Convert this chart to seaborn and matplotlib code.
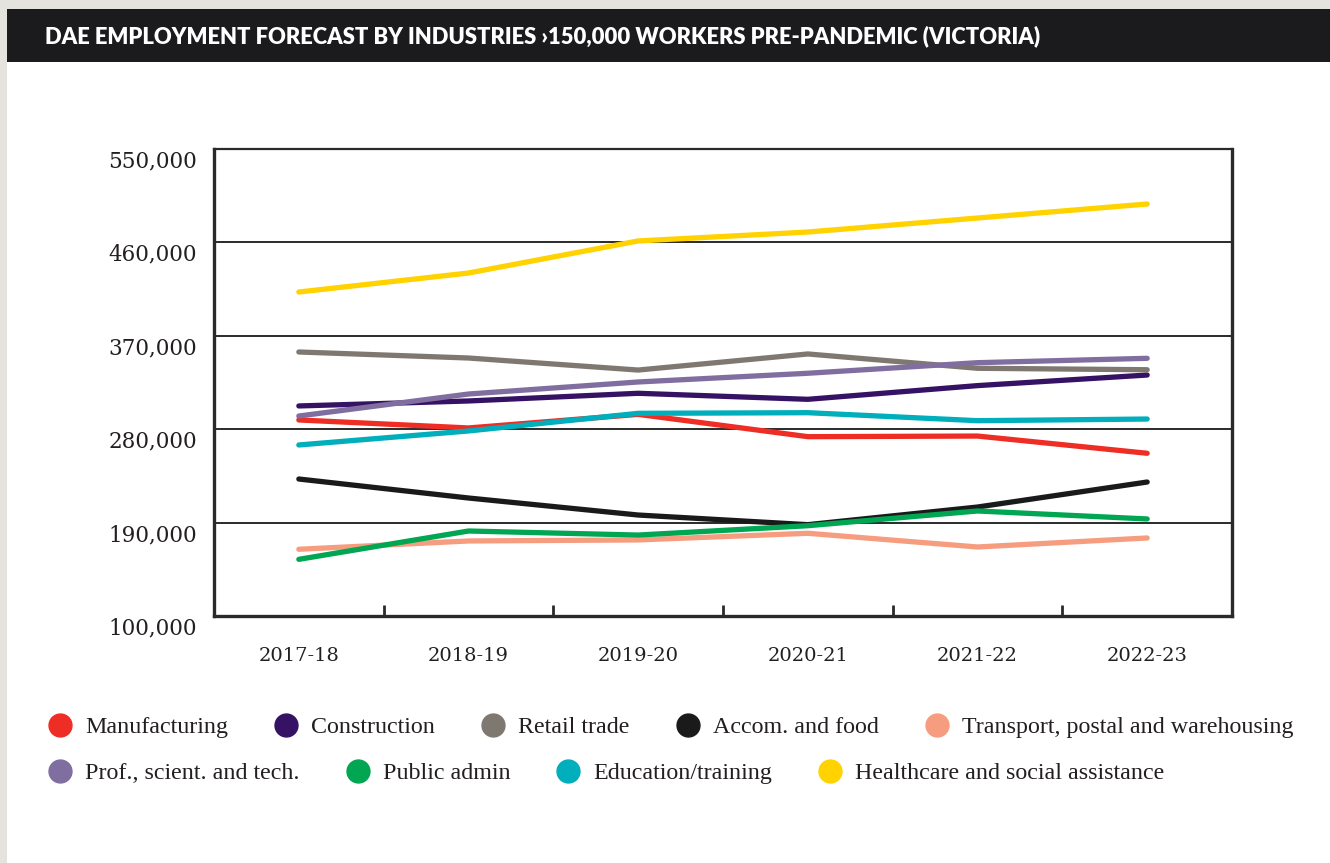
import matplotlib
matplotlib.use("Agg")
import matplotlib.pyplot as plt
import matplotlib.patches as mpatches
from matplotlib.lines import Line2D
from matplotlib.transforms import ScaledTranslation
import seaborn as sns
import pandas as pd

# ---- data -------------------------------------------------------------
years = ["2017-18", "2018-19", "2019-20", "2020-21", "2021-22", "2022-23"]

manufacturing = [288900, 281200, 294300, 272800, 273400, 256800]
construction = [302400, 307200, 314600, 308800, 322000, 332200]
retail_trade = [354400, 348600, 337000, 352500, 338700, 337300]
accom_food = [232000, 213700, 197300, 188000, 205000, 229100]
transport = [164300, 172300, 173300, 179700, 166500, 175200]
prof_sci_tech = [292700, 313900, 325500, 333900, 344100, 348300]
public_admin = [154600, 181900, 178000, 187000, 201200, 193500]
education = [264800, 278300, 295300, 295900, 288200, 289800]
healthcare = [412200, 430500, 461400, 470000, 483500, 497000]

industries = [
    "Manufacturing", "Construction", "Retail trade", "Accom. and food",
    "Transport, postal and warehousing", "Prof., scient. and tech.",
    "Public admin", "Education/training", "Healthcare and social assistance",
]
series = [manufacturing, construction, retail_trade, accom_food, transport,
          prof_sci_tech, public_admin, education, healthcare]
colors = ["#ee2d24", "#351264", "#7f7871", "#1a1a1a", "#f69d80",
          "#7f6e9f", "#00a651", "#00aebc", "#ffd200"]

y_ticks = [100000, 190000, 280000, 370000, 460000, 550000]

rows = []
for name, vals in zip(industries, series):
    for i, v in enumerate(vals):
        rows.append({"industry": name, "period": i, "workers": v})
df = pd.DataFrame(rows)

# ---- figure -----------------------------------------------------------
sns.set_theme(style="white")
W, H = 1330, 863
fig = plt.figure(figsize=(W / 100, H / 100), dpi=100)
fig.patch.set_facecolor("white")

def px_rect(x0, y0, x1, y1, color):
    fig.patches.append(mpatches.Rectangle(
        (x0 / W, 1 - y1 / H), (x1 - x0) / W, (y1 - y0) / H,
        transform=fig.transFigure, facecolor=color, edgecolor="none", zorder=0))

# page margins and heading band
px_rect(0, 0, 7, H, "#e4e3de")
px_rect(0, 0, W, 9, "#e4e3de")
px_rect(7, 9, W, 62, "#1b1b1d")
fig.text(45 / W, 1 - 36 / H,
         "DAE EMPLOYMENT FORECAST BY INDUSTRIES \u203a150,000 WORKERS PRE-PANDEMIC (VICTORIA)",
         color="white", fontsize=15.8, fontweight="heavy", family=["Lato", "DejaVu Sans"],
         va="center", ha="left")

ax = fig.add_axes([214 / W, 1 - 616 / H, (1232 - 214) / W, (616 - 149) / H])
ax.set_facecolor("white")

sns.lineplot(data=df, x="period", y="workers", hue="industry",
             hue_order=industries, palette=colors, linewidth=3.8,
             legend=False, sort=False, ax=ax, solid_capstyle="round")

ax.set_xlim(-0.5, 5.5)
ax.set_ylim(100000, 550000)
ax.set_xlabel("")
ax.set_ylabel("")

# horizontal reference lines
for v in y_ticks[1:-1]:
    ax.axhline(v, color="#2a2a2a", linewidth=1.4, zorder=0.5)

ax.set_yticks(y_ticks)
ax.set_yticklabels([f"{v:,}" for v in y_ticks], family="DejaVu Serif",
                   fontsize=15.5, color="#231f20")
ax.tick_params(axis="y", length=0, pad=12)
for lab in ax.get_yticklabels():
    lab.set_transform(lab.get_transform() + ScaledTranslation(0, -0.1, fig.dpi_scale_trans))

ax.set_xticks(range(len(years)))
ax.set_xticklabels(years, family="DejaVu Serif", fontsize=14, color="#231f20")
ax.tick_params(axis="x", which="major", length=0, pad=22)
ax.set_xticks([i + 0.5 for i in range(len(years) - 1)], minor=True)
ax.tick_params(axis="x", which="minor", direction="in", length=8, width=2,
               color="#2a2a2a", bottom=True)

for side, lw in [("left", 2.4), ("bottom", 2.4), ("right", 2.4), ("top", 1.6)]:
    ax.spines[side].set_visible(True)
    ax.spines[side].set_color("#2a2a2a")
    ax.spines[side].set_linewidth(lw)

# legend in two rows
def handle(c):
    return Line2D([], [], marker="o", linestyle="", markersize=16.5,
                  markerfacecolor=c, markeredgecolor=c)

leg_font = {"family": "Liberation Serif", "size": 17.3}
for idx, ypix in [(slice(0, 5), 727), (slice(5, 9), 773)]:
    names = industries[idx]
    cols = colors[idx]
    leg = fig.legend([handle(c) for c in cols], names, loc="center left",
                     bbox_to_anchor=(48 / W, 1 - ypix / H), ncol=len(names),
                     frameon=False, prop=leg_font, handlelength=1.0,
                     handletextpad=0.54, columnspacing=1.92, borderpad=0,
                     borderaxespad=0)
    for t in leg.get_texts():
        t.set_color("#231f20")

fig.savefig("out.png", dpi=100)
